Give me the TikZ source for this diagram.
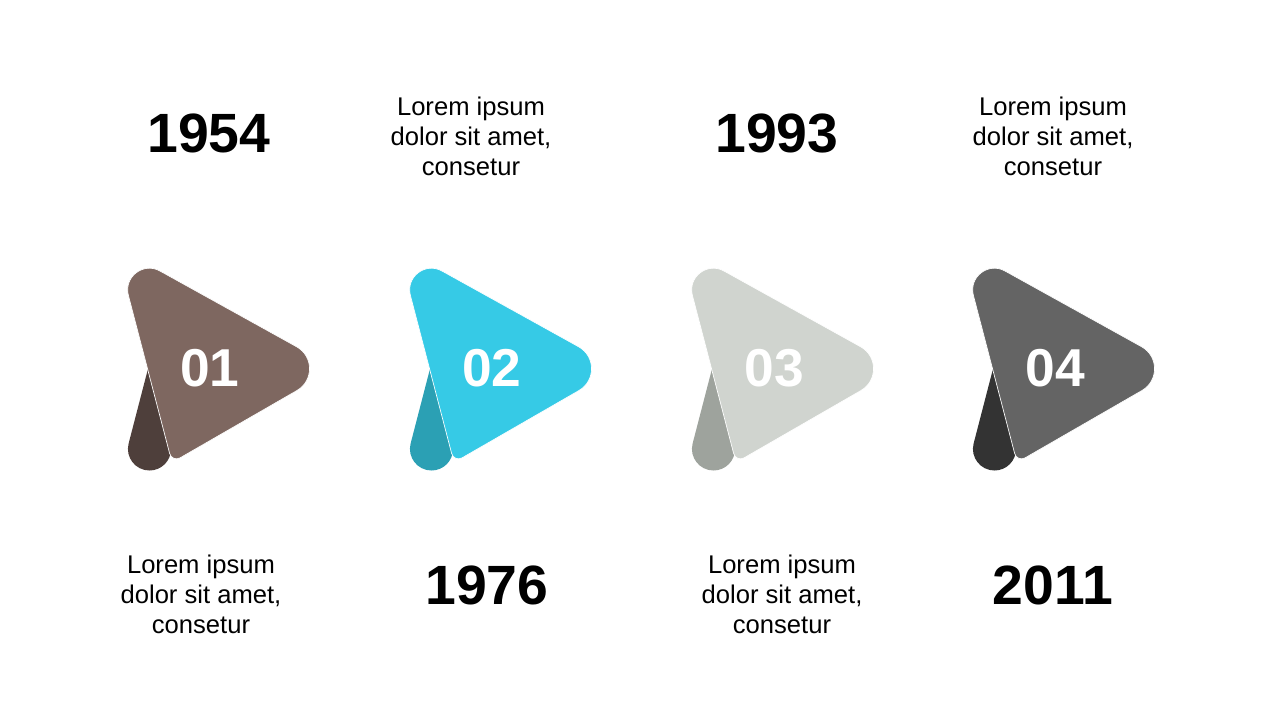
\documentclass[tikz,border=0pt]{standalone}
\usepackage{fontspec}
\setmainfont{Liberation Sans}
\usetikzlibrary{calc}

\definecolor{brownL}{HTML}{7E6760}
\definecolor{brownD}{HTML}{4E3F3B}
\definecolor{cyanL}{HTML}{36CAE6}
\definecolor{cyanD}{HTML}{2BA0B4}
\definecolor{greyL}{HTML}{D0D4CF}
\definecolor{greyD}{HTML}{9EA39D}
\definecolor{darkL}{HTML}{646464}
\definecolor{darkD}{HTML}{333333}

\begin{document}
\begin{tikzpicture}[x=0.75pt, y=-0.75pt,
  year/.style = {font=\fontsize{41.5}{49}\selectfont\bfseries},
  note/.style = {align=center, font=\fontsize{19.2}{22.5}\selectfont},
  num/.style = {text=white, font=\fontsize{40}{48}\selectfont\bfseries}]
\useasboundingbox (0,0) rectangle (1280,720);

% arrows
\foreach \o/\n/\lc/\dc in {0/01/brownL/brownD, 282/02/cyanL/cyanD,
                            564/03/greyL/greyD, 845/04/darkL/darkD} {
  \begin{scope}[shift={(\o,0)}]
    \coordinate (T) at (115.6,246.4);
    \coordinate (R) at (335.5,368.3);
    \coordinate (B) at (172,462.5);
    \coordinate (F) at (148.2,368);
    % fold
    \fill[\dc] (F) -- (128.6,443.6)
      .. controls (125.1,457.2) and (135.4,470.5) .. (149.5,470.5)
      .. controls (161.4,470.5) and (171,460.9) .. (171,449) -- cycle;
    % body
    \coordinate (a1) at ($(T)!38pt!(R)$);
    \coordinate (a2) at ($(R)!33.4pt!(T)$);
    \coordinate (a3) at ($(R)!33.4pt!(B)$);
    \coordinate (a4) at ($(B)!6.9pt!(R)$);
    \coordinate (a5) at ($(B)!6.9pt!(T)$);
    \coordinate (a6) at ($(T)!38pt!(B)$);
    \filldraw[fill=\lc, draw=white, line width=0.5pt] (a1) -- (a2)
      .. controls ($(a2)!0.44!(R)$) and ($(a3)!0.44!(R)$) .. (a3) -- (a4)
      .. controls ($(a4)!0.5!(B)$) and ($(a5)!0.5!(B)$) .. (a5) -- (a6)
      .. controls ($(a6)!0.376!(T)$) and ($(a1)!0.376!(T)$) .. (a1) -- cycle;
    \node[num] (num\n) at (210,368) {\n};
  \end{scope}
}

% top row
\node[year] (year1) at (209,133) {1954};
\node[note] (note2) at (471,136) {Lorem ipsum\\dolor sit amet,\\consetur};
\node[year] (year3) at (777,133) {1993};
\node[note] (note4) at (1053,136) {Lorem ipsum\\dolor sit amet,\\consetur};

% bottom row
\node[note] (note1) at (201,594) {Lorem ipsum\\dolor sit amet,\\consetur};
\node[year] (year2) at (487,585) {1976};
\node[note] (note3) at (782,594) {Lorem ipsum\\dolor sit amet,\\consetur};
\node[year] (year4) at (1053,585) {2011};
\end{tikzpicture}
\end{document}
